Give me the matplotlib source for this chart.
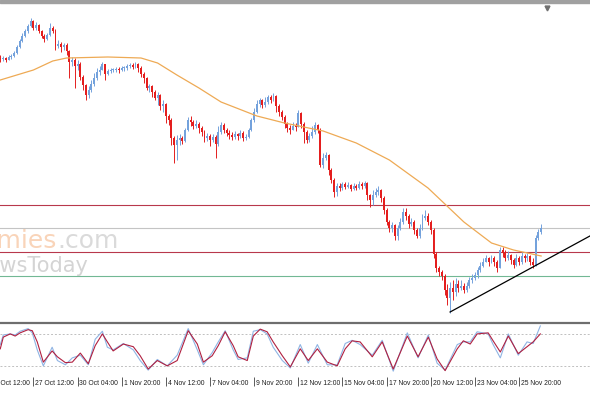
import numpy as np
import matplotlib
matplotlib.use("Agg")
import matplotlib.pyplot as plt
import matplotlib.transforms as mtransforms
from matplotlib.patches import Rectangle

# H4 candles, price in chart points (no price scale is visible)
first_open = 262
close = [261, 262, 260, 263, 264, 267, 273, 279, 284, 289, 294, 299, 292, 295, 289, 284, 281, 285, 292, 289,
         274, 276, 273, 275, 269, 258, 260, 254, 256, 243, 235, 225, 230, 236, 242, 248, 250, 256, 246, 249,
         250, 250, 251, 250, 252, 252, 254, 255, 253, 256, 252, 246, 242, 232, 234, 228, 222, 225, 214, 216,
         204, 200, 182, 175, 180, 182, 179, 190, 200, 198, 194, 196, 192, 188, 182, 184, 180, 183, 176, 188,
         195, 190, 187, 185, 183, 186, 184, 187, 182, 183, 190, 200, 208, 216, 220, 215, 218, 223, 220, 224,
         214, 208, 203, 196, 192, 190, 194, 193, 207, 196, 188, 180, 184, 188, 195, 190, 155, 162, 165, 150,
         140, 128, 134, 132, 136, 133, 135, 131, 134, 132, 136, 134, 137, 125, 120, 125, 128, 130, 122, 110,
         98, 92, 95, 84, 92, 98, 108, 104, 96, 98, 90, 84, 92, 102, 104, 98, 90, 66, 52, 48,
         44, 30, 22, 32, 28, 36, 32, 34, 30, 34, 40, 42, 45, 50, 54, 58, 62, 58, 62, 58,
         52, 70, 67, 62, 65, 60, 55, 62, 58, 64, 62, 64, 58, 55, 82, 88, 92]
high = [265, 264, 263, 265, 266, 269, 275, 281, 287, 291, 296, 302, 300, 298, 296, 290, 286, 287, 297, 294,
        291, 280, 278, 277, 277, 270, 263, 262, 260, 258, 245, 236, 234, 240, 247, 252, 254, 258, 256, 251,
        252, 252, 253, 253, 254, 254, 256, 257, 257, 258, 257, 254, 248, 243, 236, 235, 230, 228, 226, 220,
        217, 206, 202, 184, 185, 186, 184, 192, 203, 204, 200, 200, 198, 194, 190, 187, 186, 186, 185, 194,
        198, 197, 192, 190, 188, 189, 187, 190, 189, 186, 192, 202, 212, 220, 222, 221, 223, 225, 225, 227,
        225, 216, 210, 205, 198, 195, 198, 197, 210, 208, 198, 190, 187, 194, 198, 196, 192, 167, 168, 166,
        152, 142, 137, 137, 138, 138, 138, 136, 137, 136, 139, 138, 139, 138, 126, 130, 132, 134, 131, 124,
        112, 100, 98, 96, 95, 102, 112, 112, 106, 102, 100, 92, 96, 106, 110, 107, 100, 92, 68, 54,
        50, 46, 36, 38, 40, 42, 40, 40, 37, 38, 43, 46, 48, 53, 58, 62, 65, 63, 65, 64,
        60, 73, 73, 70, 69, 66, 62, 66, 64, 68, 66, 67, 65, 62, 85, 91, 96]
low = [258, 259, 258, 260, 261, 263, 266, 272, 278, 283, 287, 293, 290, 290, 287, 282, 278, 280, 284, 287,
       270, 272, 268, 270, 265, 242, 254, 232, 250, 240, 230, 220, 222, 228, 234, 240, 245, 250, 240, 245,
       247, 248, 248, 247, 249, 249, 250, 252, 251, 252, 248, 243, 237, 230, 228, 223, 220, 215, 210, 208,
       197, 195, 175, 157, 160, 175, 176, 178, 189, 194, 191, 192, 187, 184, 178, 179, 174, 178, 162, 174,
       186, 187, 184, 181, 180, 181, 180, 182, 179, 180, 182, 189, 198, 207, 213, 212, 213, 216, 217, 219,
       208, 204, 200, 192, 188, 186, 190, 189, 193, 192, 177, 177, 178, 182, 186, 187, 153, 152, 160, 145,
       137, 123, 124, 129, 130, 131, 132, 129, 130, 130, 131, 131, 132, 120, 113, 115, 123, 125, 118, 106,
       95, 88, 88, 80, 80, 90, 96, 100, 92, 94, 86, 82, 82, 90, 100, 95, 86, 62, 48, 44,
       40, 25, 15, 7, 20, 24, 28, 30, 27, 28, 32, 37, 40, 42, 48, 53, 58, 54, 57, 54,
       48, 52, 63, 59, 60, 56, 52, 54, 55, 56, 58, 59, 55, 52, 54, 80, 86]

# moving average, read at a few bars
ma_bars = [0, 12, 19, 24, 39, 51, 57, 64, 72, 80, 93, 103, 117, 129, 141, 155, 168, 178, 186, 196]
ma_vals = [240, 250, 259, 262, 263, 262, 257, 245, 232, 218, 204, 197, 189, 177, 160, 132, 98, 77, 70, 64]

# horizontal levels and trend line
res_levels = [115, 68]
mid_level = 92
sup_level = 44
trend_bars = [163, 214]
trend_vals = [8, 84.5]

# stochastic oscillator
st_bars = [0, 1.1, 3.6, 5.4, 7.2, 10.1, 11.6, 13.4, 15.6, 18.8, 20.7, 23.6, 26.1, 29, 31.9, 34.4, 37, 38.8,
           40.9, 44.6, 48.2, 50.7, 53.6, 56.9, 60.5, 64.1, 68.1, 71.4, 73.6, 76.8, 79, 81.5, 84.4, 86.2,
           89.5, 91.7, 94.2, 96.7, 98.9, 102.2, 105.1, 108.7, 111.6, 114.9, 118.5, 122.1, 125, 127.5,
           130.4, 134.8, 138.4, 142.4, 147.5, 151.4, 155.1, 158.3, 161.2, 165.6, 167.8, 170.3, 172.8,
           176.8, 178.6, 181.2, 184.1, 187.7, 190.9, 193.1, 195.7]
st_d = [52, 74, 80, 76, 82, 88, 86, 65, 27, 48, 37, 26, 27, 44, 24, 58, 80, 65,
        48, 61, 56, 39, 14, 30, 20, 30, 86, 61, 27, 39, 58, 84, 58, 37,
        30, 76, 89, 84, 65, 39, 18, 52, 30, 52, 27, 20, 52, 67,
        65, 37, 65, 14, 76, 37, 74, 33, 11, 52, 67, 61, 80,
        82, 67, 46, 76, 43, 56, 65, 80]
st_k = [60, 78, 80, 78, 85, 90, 82, 50, 20, 55, 30, 22, 35, 40, 22, 70, 85, 55,
        50, 62, 50, 30, 12, 32, 20, 40, 90, 50, 22, 45, 65, 86, 50, 32,
        35, 85, 88, 80, 55, 30, 16, 60, 25, 60, 22, 22, 62, 68,
        60, 40, 68, 10, 82, 35, 78, 25, 12, 60, 65, 65, 84,
        80, 60, 35, 80, 40, 65, 62, 95]

tick_bars = [-4, 12, 28, 44, 60, 76, 92, 108, 124, 140, 156, 172, 188]
tick_labels = ["25 Oct 12:00", "27 Oct 12:00", "30 Oct 04:00", "1 Nov 20:00", "4 Nov 12:00",
               "7 Nov 04:00", "9 Nov 20:00", "12 Nov 12:00", "15 Nov 04:00", "17 Nov 20:00",
               "20 Nov 12:00", "23 Nov 04:00", "25 Nov 20:00"]

BLUE = "#74a2dc"
RED = "#e41e1e"

fig = plt.figure(figsize=(5.9, 3.93), dpi=100)
fig.patch.set_facecolor("white")
ax = fig.add_axes([0, 73 / 393, 1, 317 / 393])
ax2 = fig.add_axes([0, 16.5 / 393, 1, 53.5 / 393], sharex=ax)

# watermark
ax.text(57 / 590, 145 / 393, "economies", transform=fig.transFigure, ha="right", va="baseline",
        fontsize=18, color="#f9d4b9", zorder=0)
ax.text(57 / 590, 145 / 393, ".com", transform=fig.transFigure, ha="left", va="baseline",
        fontsize=18, color="#dadada", zorder=0)
ax.text(88 / 590, 121 / 393, "NewsToday", transform=fig.transFigure, ha="right", va="baseline",
        fontsize=15, color="#d4d4d4", zorder=0)

# levels
for lv in res_levels:
    ax.axhline(lv, color="#b8384c", lw=0.8, zorder=1)
ax.axhline(mid_level, color="#c4c4c4", lw=0.8, zorder=1)
ax.axhline(sup_level, color="#72b894", lw=0.8, zorder=1)

# candles
c = np.array(close, float)
o = np.r_[first_open, c[:-1]]
h = np.maximum(np.array(high, float), np.maximum(o, c))
l = np.minimum(np.array(low, float), np.minimum(o, c))
x = np.arange(len(c))
cols = np.where(c >= o, BLUE, RED)
ax.vlines(x, l, h, colors=cols, lw=0.7, zorder=2)
body = np.maximum(np.abs(c - o), 0.9)
ax.bar(x, body, bottom=np.minimum(o, c), width=0.7, color=cols, linewidth=0, zorder=3)

ax.plot(ma_bars, ma_vals, color="#eeaa55", lw=0.9, zorder=4)
ax.plot(trend_bars, trend_vals, color="black", lw=0.9, zorder=5)

ax.set_ylim(0, 317)
ax.axis("off")

# chart-shift marker
ax.plot([198.2], [0.985], marker="v", ms=3.5, color="#707070",
        transform=mtransforms.blended_transform_factory(ax.transData, ax.transAxes), clip_on=False)

# top band
fig.patches.append(Rectangle((0, 390 / 393), 1, 3 / 393, transform=fig.transFigure,
                             color="#a0a0a0", zorder=10))

# stochastic panel
ax2.axhline(80, color="#c0c0c0", lw=0.7, ls=(0, (2, 2)))
ax2.axhline(20, color="#c0c0c0", lw=0.7, ls=(0, (2, 2)))
ax2.plot(st_bars, st_k, color="#8fb4e4", lw=0.8)
ax2.plot(st_bars, st_d, color="#b02040", lw=0.8)
ax2.set_ylim(0, 100.5)
for s in ["left", "right", "bottom"]:
    ax2.spines[s].set_visible(False)
ax2.spines["top"].set_color("#6e6e6e")
ax2.spines["top"].set_linewidth(1.6)
ax2.set_yticks([])
ax2.set_xticks(tick_bars)
ax2.set_xticklabels([])
ax2.tick_params(axis="x", direction="out", length=6.5, width=0.6, color="#404040")
tr = mtransforms.blended_transform_factory(ax2.transData, ax2.transAxes)
for tb, tl in zip(tick_bars, tick_labels):
    ax2.text(tb + 0.7, -0.125, tl, transform=tr, ha="left", va="center", fontsize=4.9,
             family=["Liberation Sans", "DejaVu Sans"], color="#202020", clip_on=False)

# ticks would widen the view, so fix the bar range last
ax.set_xlim(-0.1, 213.7)

fig.savefig("out.png", dpi=100, facecolor="white")
